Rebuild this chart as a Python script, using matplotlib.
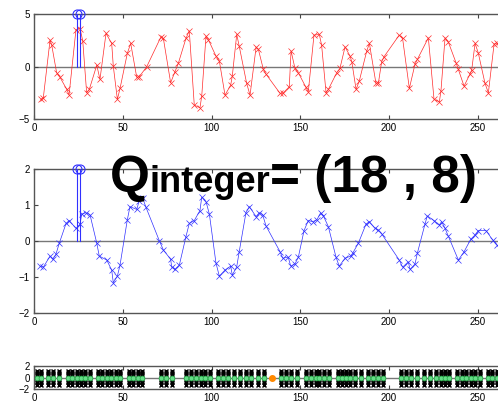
import matplotlib
matplotlib.use('Agg')
from matplotlib import pyplot as plt

# top trace (red)
x_top = [3.8, 5.3, 9.1, 10.0, 12.8, 14.7, 18.5, 19.8, 23.7, 26.0, 27.5, 29.7, 31.2,
         35.4, 37.2, 40.6, 43.8, 44.7, 47.0, 48.5, 52.6, 54.5, 57.9, 59.3, 63.5,
         71.4, 72.9, 77.0, 79.4, 81.3, 85.6, 87.5, 90.3, 93.5, 94.5, 96.9, 98.2,
         102.5, 104.4, 107.6, 110.8, 111.7, 114.2, 115.6, 119.8, 121.7, 125.1, 126.4,
         129.2, 130.7, 138.6, 140.1, 143.8, 144.8, 147.0, 148.9, 153.2, 154.5, 157.7,
         160.7, 162.0, 164.5, 165.8, 170.5, 172.3, 175.2, 178.0, 179.0, 181.4, 183.2,
         187.4, 188.9, 192.6, 194.0, 195.8, 197.1, 205.7, 207.6, 211.4, 214.6, 215.9,
         222.1, 225.3, 228.3, 229.2, 231.5, 233.3, 237.7, 239.0, 242.2, 245.5, 246.5,
         248.4, 250.2, 254.0, 255.9, 259.1, 260.6, 263.0]
y_top = [-3.1, -2.95, 2.55, 2.1, -0.57, -1.0, -2.15, -2.67, 3.55, 3.62, 2.48, -2.48, -2.15,
         0.16, -1.2, 3.18, 2.23, 0.07, -3.1, -2.06, 1.28, 2.23, -1.0, -0.95, 0.0,
         2.8, 2.7, -1.52, -0.48, 0.32, 2.7, 3.43, -3.65, -3.9, -2.79, 2.92, 2.6,
         1.02, 0.57, -2.7, -1.74, -0.89, 3.08, 1.97, -1.58, -2.7, 1.85, 1.66,
         -0.25, -0.7, -2.53, -2.53, -1.9, 1.52, -0.16, -0.57, -1.96, -2.38, 3.02,
         3.08, 2.07, -2.48, -2.15, -0.57, -0.16, 1.9, 1.02, 0.48, -2.15, -1.36,
         1.5, 2.23, -1.58, -1.52, 0.48, 0.95, 3.02, 2.7, -2.06, 0.26, 0.7,
         2.76, -3.1, -3.33, -2.29, 2.76, 2.38, 0.38, -0.25, -1.84, -0.7, -0.32,
         2.23, 1.33, -1.58, -2.48, 2.16, 2.29, 1.5]

# middle trace (blue)
x_mid = [3.4, 5.3, 9.1, 10.6, 12.4, 14.3, 18.1, 19.9, 23.7, 26.0, 26.9, 29.3, 31.6,
         35.4, 36.8, 41.0, 43.8, 44.7, 47.0, 48.5, 52.6, 54.1, 57.9, 59.3, 61.3, 63.1,
         70.6, 72.9, 77.0, 77.6, 79.4, 81.9, 85.6, 87.5, 90.3, 93.5, 94.5, 96.9, 98.8,
         102.5, 104.4, 107.6, 110.8, 111.7, 114.2, 115.6, 119.4, 121.3, 125.1, 126.9,
         128.8, 130.7, 138.6, 140.1, 143.2, 144.6, 147.0, 148.9, 152.1, 154.5, 157.0,
         159.3, 161.5, 163.0, 165.8, 170.1, 171.9, 175.2, 178.4, 179.5, 182.7, 187.0,
         188.9, 192.1, 194.0, 195.8, 205.7, 207.6, 210.8, 211.8, 214.6, 215.9, 220.2,
         221.5, 225.3, 228.3, 229.6, 231.5, 233.3, 239.0, 242.2, 246.0, 248.4, 250.2,
         254.6, 258.3, 260.6, 263.0]
y_mid = [-0.70, -0.73, -0.42, -0.51, -0.37, -0.06, 0.49, 0.57, 0.35, 0.47, 0.75, 0.79, 0.73,
         -0.06, -0.42, -0.53, -0.81, -1.16, -0.98, -0.67, 0.59, 0.96, 0.88, 1.12, 1.19, 0.94,
         0.01, -0.25, -0.51, -0.73, -0.79, -0.67, 0.12, 0.49, 0.57, 0.85, 1.22, 1.10, 0.75,
         -0.61, -0.98, -0.81, -0.70, -0.95, -0.72, -0.30, 0.79, 0.96, 0.68, 0.79,
         0.73, 0.42, -0.30, -0.48, -0.45, -0.70, -0.64, -0.45, 0.29, 0.57, 0.54,
         0.59, 0.79, 0.70, 0.40, -0.45, -0.70, -0.48, -0.42, -0.34, -0.06, 0.47,
         0.54, 0.35, 0.31, 0.20, -0.53, -0.73, -0.58, -0.79, -0.64, -0.34, 0.47,
         0.70, 0.57, 0.45, 0.54, 0.35, 0.14, -0.53, -0.30, 0.05, 0.17, 0.29,
         0.29, 0.03, -0.11, -0.25]

# detected peaks (stems)
x_peaks = [24, 26]

# bottom strip: spindle positions and marker levels
x_spindle = [2, 4, 8, 11, 14, 19, 21.5, 24, 26.5, 29, 31.5, 36, 38.5, 41, 43.5, 46, 48.5,
             53.5, 56, 58.5, 61, 71.5, 74.5, 77.5, 85.5, 88.5, 91.5, 94, 96.5, 99,
             103.5, 106.5, 109.5, 112.5, 116, 119.5, 122.5, 126, 129.5, 139, 142, 145, 148,
             153, 156, 159, 160.5, 163.5, 166, 171, 173.5, 176, 178, 181, 184,
             188, 191, 194, 196.5, 206.5, 209.5, 212.5, 215.5, 219.5, 223, 226.5,
             229, 231.5, 234, 238.5, 241, 243.5, 246, 248.5, 251, 255.5, 258, 260.5]
spindle_levels = [-1.2, -0.8, -0.4, 0.4, 0.8, 1.2]
x_marker = [134]

W, H = 498.0, 403.0
XMAX = 300.0
left = 33.9 / W
width = XMAX * 1.776 / W


def style_axes(ax, ylim, yticks):
    ax.set_xlim(0, XMAX)
    ax.set_ylim(*ylim)
    ax.set_xticks(range(0, 251, 50))
    ax.set_yticks(yticks)
    ax.tick_params(direction='in', length=3, width=0.8, color='#444444',
                   labelsize=7, top=True, pad=3)
    for s in ax.spines.values():
        s.set_color('#555555')
        s.set_linewidth(1.0)
    ax.axhline(0, color='#777777', lw=1.0, zorder=1)


plt.rcParams['font.family'] = ['Liberation Sans', 'DejaVu Sans']
fig = plt.figure(figsize=(W / 100, H / 100), dpi=100)

ax1 = fig.add_axes([left, 1 - 119.3 / H, width, 105 / H])
style_axes(ax1, (-5, 5), [-5, 0, 5])
ax1.plot(x_top, y_top, color='#ff2a2a', lw=0.5, marker='x', ms=4, mew=0.5, zorder=3)
for xp in x_peaks:
    ax1.plot([xp, xp], [0, 5], color='#3030ff', lw=0.8, zorder=4)
ax1.plot(x_peaks, [5] * len(x_peaks), 'o', mfc='none', mec='#3030ff', ms=6.5, mew=0.8,
         clip_on=False, zorder=5)

ax2 = fig.add_axes([left, 1 - 312.7 / H, width, 143.4 / H])
style_axes(ax2, (-2, 2), [-2, -1, 0, 1, 2])
ax2.plot(x_mid, y_mid, color='#3030ff', lw=0.5, marker='x', ms=4, mew=0.5, zorder=3)
for xp in x_peaks:
    ax2.plot([xp, xp], [0, 2], color='#3030ff', lw=0.8, zorder=4)
ax2.plot(x_peaks, [2] * len(x_peaks), 'o', mfc='none', mec='#3030ff', ms=6.5, mew=0.8,
         clip_on=False, zorder=5)

ax3 = fig.add_axes([left, 1 - 389.3 / H, width, 23.3 / H])
style_axes(ax3, (-2, 2), [-2, 0, 2])
for xs in x_spindle:
    ax3.plot([xs] * len(spindle_levels), spindle_levels, color='black', lw=2.2,
             marker='x', ms=3.5, mew=1.0, zorder=3)
ax3.plot(x_spindle, [0] * len(x_spindle), 'o', mfc='#66dd88', mec='#22aa44', ms=3.5,
         mew=0.5, zorder=4)
ax3.plot(x_marker, [0], 'o', color='#ff8800', ms=4, zorder=5)

bold = dict(fontweight='bold', color='black', va='baseline')
fig.text(110 / W, 1 - 192 / H, 'Q', fontsize=37, **bold)
fig.text(149.5 / W, 1 - 192 / H, 'integer', fontsize=26, **bold)
fig.text(270 / W, 1 - 192 / H, '= (18 , 8)', fontsize=37, **bold)

fig.savefig('out.png', dpi=100)
